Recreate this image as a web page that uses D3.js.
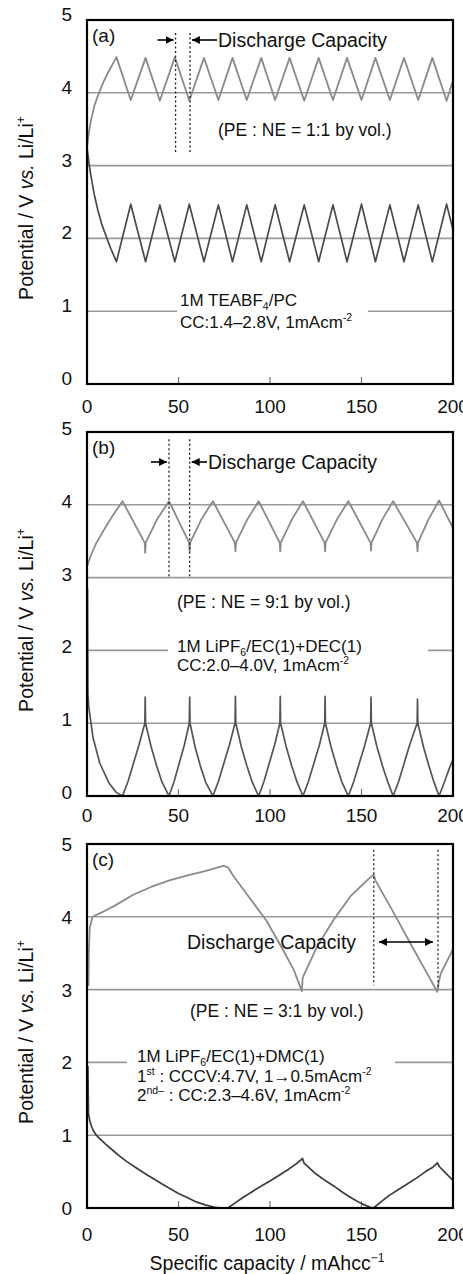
<!DOCTYPE html>
<html>
<head>
<meta charset="utf-8">
<script src="https://cdn.jsdelivr.net/npm/d3@7/dist/d3.min.js"></script>
<style>
body{margin:0;background:#fff}
svg{display:block;font-family:"Liberation Sans",Arial,sans-serif}
</style>
</head>
<body>
<script>
// tick values
var xTicks = [0, 50, 100, 150, 200];
var yTicks = [0, 1, 2, 3, 4, 5];
var gridVals = [1, 2, 3, 4];
var panelNames = ["(a)", "(b)", "(c)"];

// (a) TEABF4/PC, PE : NE = 1:1
var peA = [[0,3.25],[1,3.45],[2,3.6],[4,3.82],[6.4,3.99],[9,4.15],[12,4.3],[16.1,4.49],[23.9,3.9],[32.0,4.48],[39.8,3.89],[48.0,4.49],[55.9,3.89],[63.9,4.48],[71.8,3.9],[79.5,4.48],[87.3,3.9],[95.2,4.48],[102.8,3.9],[110.7,4.48],[118.7,3.89],[126.6,4.48],[134.4,3.9],[142.1,4.48],[150.0,3.9],[157.6,4.48],[165.5,3.9],[173.2,4.48],[181.0,3.9],[188.7,4.48],[196.5,3.89],[200,4.17]];
var neA = [[0,3.25],[1,3.05],[2,2.88],[4,2.6],[6,2.38],[8,2.2],[10.6,2.02],[13,1.86],[16.1,1.68],[23.9,2.47],[32.0,1.68],[39.8,2.46],[48.0,1.68],[55.9,2.47],[63.9,1.68],[71.8,2.46],[79.5,1.68],[87.3,2.46],[95.2,1.68],[102.8,2.46],[110.7,1.68],[118.7,2.46],[126.6,1.68],[134.4,2.46],[142.1,1.68],[150.0,2.47],[157.6,1.68],[165.5,2.46],[173.2,1.68],[181.0,2.46],[188.7,1.68],[196.5,2.47],[200,2.12]];

// (b) LiPF6/EC+DEC, PE : NE = 9:1
var peB = [[0,3.15],[2,3.3],[5,3.47],[8,3.6],[11,3.73],[14,3.85],[17,3.96],[19.4,4.05],[31.5,3.48],[31.8,3.34],[32.1,3.48],[38.3,3.8],[44.8,4.05],[55.8,3.48],[56.1,3.36],[56.4,3.48],[62.5,3.8],[68.8,4.05],[80.8,3.48],[81.1,3.36],[81.4,3.48],[87.6,3.8],[93.8,4.05],[105.3,3.48],[105.6,3.36],[105.9,3.48],[112.0,3.8],[118.0,4.05],[129.8,3.48],[130.1,3.36],[130.4,3.48],[136.6,3.8],[142.8,4.05],[154.9,3.48],[155.2,3.37],[155.5,3.48],[161.4,3.8],[167.3,4.05],[180.3,3.48],[180.6,3.36],[180.9,3.48],[186.6,3.8],[192.4,4.06],[200,3.68]];
var neB = [[0.3,2.85],[0.5,1.4],[1,1.22],[3.3,0.8],[7,0.45],[12,0.18],[16,0.05],[19.4,0],
  [22.4,0.2],[25.4,0.45],[28.4,0.7],[31.6,1.0],[31.8,1.36],[32.0,1.0],[35.0,0.68],[38.0,0.42],[41.0,0.19],[44.8,0],
  [47.6,0.2],[50.4,0.45],[53.2,0.7],[55.9,1.0],[56.1,1.36],[56.3,1.0],[59.2,0.66],[62.1,0.4],[65.0,0.18],[68.8,0],
  [71.8,0.2],[74.8,0.45],[77.8,0.7],[80.9,1.0],[81.1,1.37],[81.3,1.0],[84.3,0.68],[87.3,0.42],[90.3,0.19],[93.8,0],
  [96.7,0.2],[99.6,0.45],[102.5,0.7],[105.4,1.0],[105.6,1.37],[105.8,1.0],[108.8,0.68],[111.8,0.42],[114.8,0.19],[118.0,0],
  [121.0,0.2],[124.0,0.45],[127.0,0.7],[129.9,1.0],[130.1,1.37],[130.3,1.0],[133.3,0.68],[136.3,0.42],[139.3,0.19],[142.8,0],
  [145.8,0.2],[148.8,0.45],[151.8,0.7],[155.0,1.0],[155.2,1.36],[155.4,1.0],[158.4,0.68],[161.4,0.42],[164.4,0.19],[167.3,0],
  [170.3,0.2],[173.3,0.45],[176.3,0.7],[180.4,1.0],[180.6,1.33],[180.8,1.0],[183.8,0.68],[186.8,0.42],[189.6,0.19],[192.4,0],
  [195.4,0.2],[198,0.38],[200,0.5]];

// (c) LiPF6/EC+DMC, PE : NE = 3:1
var peC = [[0.8,3.05],[1.0,3.5],[1.5,3.85],[3,4.0],[8,4.06],[15,4.15],[25,4.3],[35,4.41],[45,4.5],[55,4.57],[65,4.63],[74.5,4.7],[77,4.68],[80,4.56],[90,4.22],[98,3.95],[107,3.55],[113,3.27],[117.4,2.98],[117.8,3.15],[118.5,3.2],[125.7,3.59],[134.8,3.96],[143.9,4.28],[153,4.5],[156.7,4.58],[157.6,4.5],[167.7,4.05],[176.8,3.63],[185.9,3.22],[191.4,2.97],[192.2,3.1],[193.3,3.22],[199.7,3.54],[200,3.55]];
var neC = [[0.5,1.95],[0.8,1.3],[1.5,1.2],[2.5,1.12],[3.5,1.06],[5.1,1.0],[7.5,0.94],[10,0.88],[14.2,0.79],[18,0.71],[21.6,0.64],[27,0.55],[32.5,0.46],[39,0.36],[45,0.27],[50,0.2],[55,0.14],[60,0.08],[65,0.04],[70,0.01],[74,0],[77,0],[81,0.07],[85,0.14],[90,0.22],[95,0.3],[100,0.37],[105,0.45],[110,0.53],[114,0.6],[117.8,0.68],[118.5,0.62],[121,0.56],[125,0.47],[130,0.38],[135,0.3],[140,0.21],[145,0.13],[150,0.06],[155.8,0],[157,0.01],[161,0.09],[165,0.17],[170,0.25],[175,0.33],[180,0.41],[185,0.5],[189,0.56],[191.5,0.62],[192.5,0.57],[196,0.48],[200,0.38]];

// discharge capacity markers (x of dotted lines)
var markA = [48.4, 56.3];
var markB = [44.8, 56.1];
var markC = [156.7, 191.8];

var W = 463, H = 1274;
var left = 87, right = 453;

var svg = d3.select("body").append("svg")
  .attr("width", W).attr("height", H);
svg.append("rect").attr("width", W).attr("height", H).attr("fill", "#fff");

var defs = svg.append("defs");
defs.append("marker").attr("id", "arr")
  .attr("viewBox", "0 0 10 10").attr("refX", 10).attr("refY", 5)
  .attr("markerWidth", 5).attr("markerHeight", 5)
  .attr("markerUnits", "strokeWidth")
  .attr("orient", "auto-start-reverse")
  .append("path").attr("d", "M0,0L10,5L0,10z").attr("fill", "#000");

var x = d3.scaleLinear().domain([0, 200]).range([left, right]);

// small helper for text with sup / sub parts
function rich(g, px, py, parts, size, anchor) {
  var t = g.append("text").attr("x", px).attr("y", py)
    .attr("font-size", size).attr("fill", "#111");
  if (anchor) t.attr("text-anchor", anchor);
  var shift = 0;
  parts.forEach(function(p) {
    var kind = p[1] || "";
    var target = kind == "sup" ? -size * 0.4 : kind == "sub" ? size * 0.25 : 0;
    var ts = t.append("tspan").attr("dy", target - shift).text(p[0]);
    if (kind == "sup" || kind == "sub") ts.attr("font-size", size * 0.62);
    if (kind == "it") ts.attr("font-style", "italic");
    shift = target;
  });
  return t;
}

var panels = [
  { top: 20, pe: peA, ne: neA, neColor: "#4a4a4a", mark: markA, dot: [4.82, 3.18],
    gap: [1, 177, 368], tickDy: 29, labDy: 6,
    notes: function(g, y) {
      rich(g, 218, 136, [["(PE : NE = 1:1 by vol.)"]], 17.5);
      rich(g, 180, 306, [["1M TEABF"], ["4", "sub"], ["/PC"]], 17);
      rich(g, 180, 328, [["CC:1.4\u20132.8V, 1mAcm"], ["-2", "sup"]], 17);
      arrowsTwo(g, 40, 218);
    } },
  { top: 432, pe: peB, ne: neB, neColor: "#555", mark: markB, dot: [4.9, 3.0],
    gap: [2, 168, 428], tickDy: 26, labDy: 4,
    notes: function(g, y) {
      rich(g, 177, 608, [["(PE : NE = 9:1 by vol.)"]], 17.5);
      rich(g, 177, 652, [["1M LiPF"], ["6", "sub"], ["/EC(1)+DEC(1)"]], 17);
      rich(g, 177, 671, [["CC:2.0\u20134.0V, 1mAcm"], ["-2", "sup"]], 17);
      arrowsTwo(g, 462, 208);
    } },
  { top: 844, pe: peC, ne: neC, neColor: "#3c3c3c", mark: markC, dot: [4.92, 3.06],
    gap: [2, 127, 395], tickDy: 33, labDy: 0,
    notes: function(g, y) {
      rich(g, 187, 949, [["Discharge Capacity"]], 19.5);
      g.append("line").attr("x1", 379).attr("x2", 433).attr("y1", 942).attr("y2", 942)
        .attr("stroke", "#000").attr("stroke-width", 1.6)
        .attr("marker-end", "url(#arr)").attr("marker-start", "url(#arr)");
      rich(g, 190, 1017, [["(PE : NE = 3:1 by vol.)"]], 17.5);
      rich(g, 137, 1062, [["1M LiPF"], ["6", "sub"], ["/EC(1)+DMC(1)"]], 17);
      rich(g, 137, 1082, [["1"], ["st", "sup"], [" : CCCV:4.7V, 1\u21920.5mAcm"], ["-2", "sup"]], 17);
      rich(g, 137, 1101, [["2"], ["nd\u2013", "sup"], [" : CC:2.3\u20134.6V, 1mAcm"], ["-2", "sup"]], 17);
    } }
];

// the two small arrows pointing at the dotted lines, with the label
var curMark;
function arrowsTwo(g, py, textX) {
  var a = x(curMark[0]), b = x(curMark[1]);
  g.append("line").attr("x1", a - 18).attr("x2", a - 2).attr("y1", py).attr("y2", py)
    .attr("stroke", "#000").attr("stroke-width", 1.6).attr("marker-end", "url(#arr)");
  g.append("line").attr("x1", textX - 1).attr("x2", b + 2).attr("y1", py).attr("y2", py)
    .attr("stroke", "#000").attr("stroke-width", 1.6).attr("marker-end", "url(#arr)");
  rich(g, textX, py + 7, [["Discharge Capacity"]], 19.5);
}

panels.forEach(function(p, i) {
  var bottom = p.top + 364;
  var y = d3.scaleLinear().domain([0, 5]).range([bottom, p.top]);
  var g = svg.append("g");
  curMark = p.mark;

  // gridlines
  g.selectAll(".grid").data(gridVals).enter().append("line")
    .attr("x1", left).attr("x2", right)
    .attr("y1", function(d) { return y(d); }).attr("y2", function(d) { return y(d); })
    .attr("stroke", "#9a9a9a").attr("stroke-width", 1.6);
  // gap in one gridline behind the note text
  g.append("rect").attr("x", p.gap[1]).attr("width", p.gap[2] - p.gap[1])
    .attr("y", y(p.gap[0]) - 3).attr("height", 6).attr("fill", "#fff");

  // x ticks inside frame
  g.selectAll(".xt").data(xTicks.slice(1, -1)).enter().append("line")
    .attr("x1", function(d) { return x(d); }).attr("x2", function(d) { return x(d); })
    .attr("y1", bottom).attr("y2", bottom - 7)
    .attr("stroke", "#777").attr("stroke-width", 1.2);

  var clipId = "clip" + i;
  defs.append("clipPath").attr("id", clipId).append("rect")
    .attr("x", left).attr("y", p.top).attr("width", right - left).attr("height", bottom - p.top);

  var line = d3.line().x(function(d) { return x(d[0]); }).y(function(d) { return y(d[1]); });
  var data = g.append("g").attr("clip-path", "url(#" + clipId + ")");
  data.append("path").attr("d", line(p.pe)).attr("fill", "none")
    .attr("stroke", "#8a8a8a").attr("stroke-width", 1.8).attr("stroke-linejoin", "round");
  data.append("path").attr("d", line(p.ne)).attr("fill", "none")
    .attr("stroke", p.neColor).attr("stroke-width", 1.7).attr("stroke-linejoin", "round");

  // dotted markers
  g.selectAll(".dot").data(p.mark).enter().append("line")
    .attr("x1", function(d) { return x(d); }).attr("x2", function(d) { return x(d); })
    .attr("y1", y(p.dot[0])).attr("y2", function(d, j) { return y(j == 1 && i == 2 ? 3.0 : p.dot[1]); })
    .attr("stroke", "#222").attr("stroke-width", 1.3).attr("stroke-dasharray", "2,2.5");

  p.notes(g, y);

  // frame
  g.append("rect").attr("x", left).attr("y", p.top)
    .attr("width", right - left).attr("height", bottom - p.top)
    .attr("fill", "none").attr("stroke", "#000").attr("stroke-width", 2.2);

  // tick labels
  g.selectAll(".xl").data(xTicks).enter().append("text")
    .attr("x", function(d) { return x(d); }).attr("y", bottom + p.tickDy)
    .attr("text-anchor", "middle").attr("font-size", 19).attr("fill", "#111")
    .text(function(d) { return d; });
  g.selectAll(".yl").data(yTicks).enter().append("text")
    .attr("x", 72).attr("y", function(d) { return y(d) + 7 - p.labDy; })
    .attr("text-anchor", "end").attr("font-size", 19).attr("fill", "#111")
    .text(function(d) { return d; });

  // panel letter
  rich(g, 92, p.top + 22, [[panelNames[i]]], 19);

  // y title
  var yt = g.append("g").attr("transform", "translate(33," + ((p.top + bottom) / 2 + 6) + ") rotate(-90)");
  rich(yt, 0, 0, [["Potential / V "], ["vs.", "it"], [" Li/Li"], ["+", "sup"]], 19.5, "middle");
});

// x title
rich(svg, 267, 1270, [["Specific capacity / mAhcc"], ["\u22121", "sup"]], 19.5, "middle");
</script>
</body>
</html>
